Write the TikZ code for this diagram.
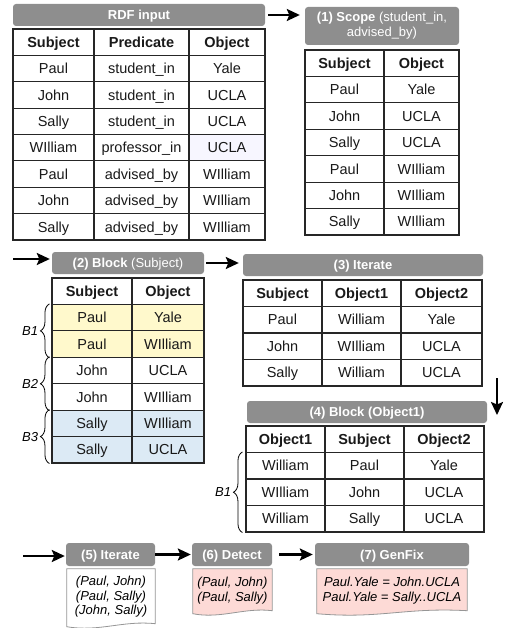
\documentclass[tikz,border=0pt]{standalone}
\usepackage{fontspec}
\setmainfont{Liberation Sans}
\usetikzlibrary{arrows.meta,decorations.pathreplacing,calc}
\definecolor{hdrgray}{RGB}{142,142,142}
\definecolor{yel}{RGB}{255,249,204}
\definecolor{blu}{RGB}{220,234,245}
\definecolor{pnk}{RGB}{253,218,214}
\definecolor{lav}{RGB}{247,246,255}
\definecolor{docgray}{RGB}{150,150,150}
\pgfdeclarelayer{bg}\pgfsetlayers{bg,main}
\begin{document}
\begin{tikzpicture}[x=1pt,y=-1pt,
 cell/.style={draw=black!85, line width=1.1pt, inner sep=0pt, text height=10.4pt, text depth=0pt, font=\fontsize{14.5}{16}\selectfont, text=black!90},
 hcell/.style={cell, font=\bfseries\fontsize{14.5}{16}\selectfont},
 hdr/.style={fill=hdrgray, rounded corners=3pt, text=white, inner sep=0pt, font=\bfseries\fontsize{13}{15}\selectfont, minimum height=22},
 hdr1/.style={hdr, text height=9.3pt, text depth=0pt},
 arr/.style={line width=2.2pt, -{Stealth[length=13pt,width=12pt,inset=2.5pt]}},
 brc/.style={decorate, decoration={brace, amplitude=9pt}, line width=0.8pt},
 blbl/.style={font=\itshape\fontsize{13}{15}\selectfont, inner sep=1pt},
 docbox/.style={inner sep=0pt, align=center, font=\itshape\fontsize{13}{14.5}\selectfont},
 docline/.style={draw=docgray, line width=0.8pt}
]
\useasboundingbox (0,0) rectangle (511,628);

% ---------- headers ----------
\node[hdr1, minimum width=252] (h0) at (139,15) {RDF input};
\node[hdr, minimum width=154, minimum height=38, align=center, font=\fontsize{13}{15}\selectfont] (h1) at (382,26) {\textbf{(1) Scope} (student\_in,\\advised\_by)};
\node[hdr1, minimum width=152] (h2) at (128,263) {(2) Block \mdseries(Subject)};
\node[hdr1, minimum width=240] (h3) at (363,265) {(3) Iterate};
\node[hdr1, minimum width=240] (h4) at (367,412) {(4) Block (Object1)};
\node[hdr1, minimum width=89, minimum height=23] (h5) at (110.5,554.5) {(5) Iterate};
\node[hdr1, minimum width=80, minimum height=23] (h6) at (232,554.5) {(6) Detect};
\node[hdr1, minimum width=154, minimum height=23] (h7) at (392,554.5) {(7) GenFix};

% ---------- table 0: RDF input ----------
\pgfmathsetmacro\yy{29+0.5*26.375}
\node[hcell, minimum width=81, minimum height=26.375] (t0-0-1) at (53.5,\yy) {Subject};
\node[hcell, minimum width=95, minimum height=26.375] (t0-0-2) at (141.5,\yy) {Predicate};
\node[hcell, minimum width=76, minimum height=26.375] (t0-0-3) at (227,\yy) {Object};
\foreach \a/\b/\c/\f [count=\i] in {Paul/student\_in/Yale/white, John/student\_in/UCLA/white, Sally/student\_in/UCLA/white, WIlliam/professor\_in/UCLA/lav, Paul/advised\_by/WIlliam/white, John/advised\_by/WIlliam/white, Sally/advised\_by/WIlliam/white}{
  \pgfmathsetmacro\yy{29+(\i+0.5)*26.375}
  \node[cell, minimum width=81, minimum height=26.375] (t0-\i-1) at (53.5,\yy) {\a};
  \node[cell, minimum width=95, minimum height=26.375] (t0-\i-2) at (141.5,\yy) {\b};
  \node[cell, fill=\f, minimum width=76, minimum height=26.375] (t0-\i-3) at (227,\yy) {\c};
}

% ---------- table 1: Scope ----------
\pgfmathsetmacro\yy{50+0.5*26.43}
\node[hcell, minimum width=79, minimum height=26.43] (t1-0-1) at (344.5,\yy) {Subject};
\node[hcell, minimum width=75, minimum height=26.43] (t1-0-2) at (421.5,\yy) {Object};
\foreach \a/\b [count=\i] in {Paul/Yale, John/UCLA, Sally/UCLA, Paul/WIlliam, John/WIlliam, Sally/WIlliam}{
  \pgfmathsetmacro\yy{50+(\i+0.5)*26.43}
  \node[cell, minimum width=79, minimum height=26.43] (t1-\i-1) at (344.5,\yy) {\a};
  \node[cell, minimum width=75, minimum height=26.43] (t1-\i-2) at (421.5,\yy) {\b};
}

% ---------- table 2: Block (Subject) ----------
\pgfmathsetmacro\yy{278+0.5*26.43}
\node[hcell, minimum width=80, minimum height=26.43] (t2-0-1) at (92,\yy) {Subject};
\node[hcell, minimum width=72, minimum height=26.43] (t2-0-2) at (168,\yy) {Object};
\foreach \a/\b/\f [count=\i] in {Paul/Yale/yel, Paul/WIlliam/yel, John/UCLA/white, John/WIlliam/white, Sally/WIlliam/blu, Sally/UCLA/blu}{
  \pgfmathsetmacro\yy{278+(\i+0.5)*26.43}
  \node[cell, fill=\f, minimum width=80, minimum height=26.43] (t2-\i-1) at (92,\yy) {\a};
  \node[cell, fill=\f, minimum width=72, minimum height=26.43] (t2-\i-2) at (168,\yy) {\b};
}
\draw[brc] ([xshift=-2]t2-2-1.south west) -- ([xshift=-2]t2-1-1.north west) node[midway, left=10pt, blbl] (lb1) {B1};
\draw[brc] ([xshift=-2]t2-4-1.south west) -- ([xshift=-2]t2-3-1.north west) node[midway, left=10pt, blbl] (lb2) {B2};
\draw[brc] ([xshift=-2]t2-6-1.south west) -- ([xshift=-2]t2-5-1.north west) node[midway, left=10pt, blbl] (lb3) {B3};

% ---------- table 3: Iterate ----------
\pgfmathsetmacro\yy{280+0.5*26.5}
\node[hcell, minimum width=79, minimum height=26.5] (t3-0-1) at (282.5,\yy) {Subject};
\node[hcell, minimum width=79, minimum height=26.5] (t3-0-2) at (361.5,\yy) {Object1};
\node[hcell, minimum width=81, minimum height=26.5] (t3-0-3) at (441.5,\yy) {Object2};
\foreach \a/\b/\c [count=\i] in {Paul/William/Yale, John/WIlliam/UCLA, Sally/William/UCLA}{
  \pgfmathsetmacro\yy{280+(\i+0.5)*26.5}
  \node[cell, minimum width=79, minimum height=26.5] (t3-\i-1) at (282.5,\yy) {\a};
  \node[cell, minimum width=79, minimum height=26.5] (t3-\i-2) at (361.5,\yy) {\b};
  \node[cell, minimum width=81, minimum height=26.5] (t3-\i-3) at (441.5,\yy) {\c};
}

% ---------- table 4: Block (Object1) ----------
\pgfmathsetmacro\yy{426+0.5*26.5}
\node[hcell, minimum width=79, minimum height=26.5] (t4-0-1) at (285.5,\yy) {Object1};
\node[hcell, minimum width=79, minimum height=26.5] (t4-0-2) at (364.5,\yy) {Subject};
\node[hcell, minimum width=80, minimum height=26.5] (t4-0-3) at (444,\yy) {Object2};
\foreach \a/\b/\c [count=\i] in {William/Paul/Yale, WIlliam/John/UCLA, William/Sally/UCLA}{
  \pgfmathsetmacro\yy{426+(\i+0.5)*26.5}
  \node[cell, minimum width=79, minimum height=26.5] (t4-\i-1) at (285.5,\yy) {\a};
  \node[cell, minimum width=79, minimum height=26.5] (t4-\i-2) at (364.5,\yy) {\b};
  \node[cell, minimum width=80, minimum height=26.5] (t4-\i-3) at (444,\yy) {\c};
}
\draw[brc] ([xshift=-3]t4-3-1.south west) -- ([xshift=-3]t4-1-1.north west) node[midway, left=10pt, blbl] (lb4) {B1};

% ---------- bottom boxes ----------
\node[docbox, minimum width=88, minimum height=56] (d5) at (111,597) {(Paul, John)\\(Paul, Sally)\\(John, Sally)};
\node[docbox, minimum width=79, minimum height=43] (d6) at (232.5,590.5) {(Paul, John)\\(Paul, Sally)};
\node[docbox, minimum width=150, minimum height=43] (d7) at (392,590.5) {Paul.Yale = John.UCLA\\Paul.Yale = Sally..UCLA};
\begin{pgfonlayer}{bg}
\foreach \n/\f in {d5/white, d6/pnk, d7/pnk}{
  \path[docline, fill=\f] (\n.north west) -- (\n.north east) -- ([yshift=1.5]\n.south east)
    .. controls ($(\n.south)+(12,-5)$) and ($(\n.south)+(-12,7)$) .. ([yshift=-1.5]\n.south west) -- cycle;
}
\end{pgfonlayer}

% ---------- arrows ----------
\draw[arr, shorten <=3pt, shorten >=5pt] (h0.east) -- (h0.east -| h1.west);
\coordinate (a2) at (13,259);
\draw[arr, shorten >=2pt] (a2) -- (a2 -| h2.west);
\draw[arr, shorten <=2pt, shorten >=4pt] (h2.east) -- (h2.east -| h3.west);
\coordinate (a4s) at (497,378);
\coordinate (a4e) at (497,415);
\draw[arr] (a4s) -- (a4e);
\coordinate (a5) at (23,556);
\draw[arr, shorten >=1pt] (a5) -- (a5 -| h5.west);
\draw[arr, shorten >=1pt] (h5.east) -- (h5.east -| h6.west);
\draw[arr, shorten <=7pt, shorten >=2pt] (h6.east) -- (h6.east -| h7.west);
\end{tikzpicture}
\end{document}
